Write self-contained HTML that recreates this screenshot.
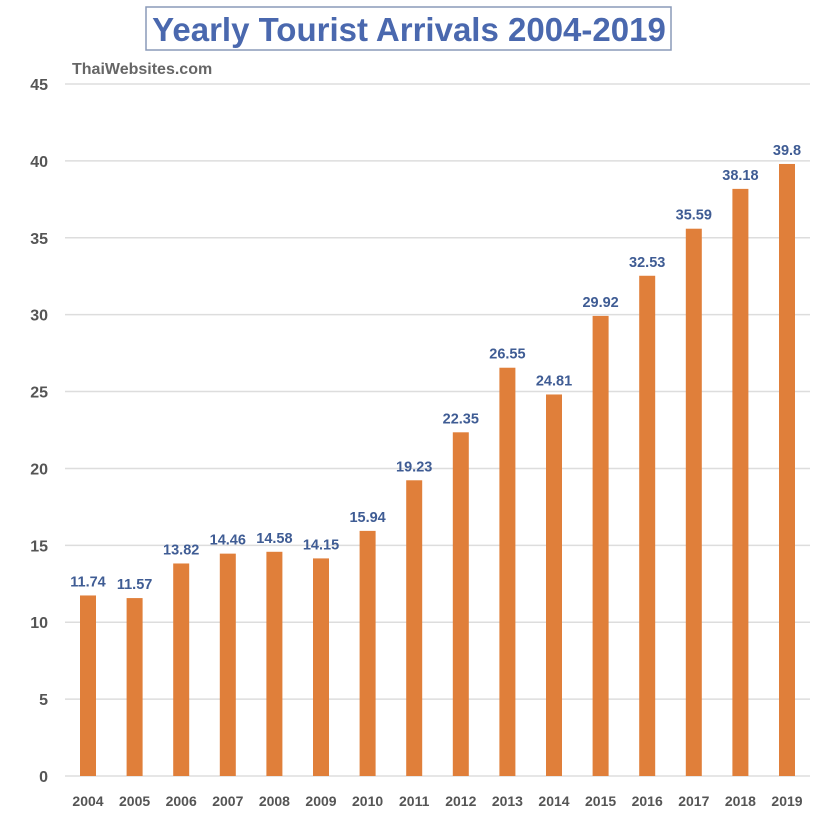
<!DOCTYPE html>
<html><head><meta charset="utf-8"><style>
body{margin:0;background:#fff;width:820px;height:818px;overflow:hidden;font-family:"Liberation Sans",sans-serif}
</style></head><body>
<svg width="820" height="818">
<rect x="146" y="7" width="525" height="43" fill="#fff" stroke="#8a9ab8" stroke-width="1.5"/>
<text x="409" y="41" text-anchor="middle" font-size="33" font-weight="bold" fill="#4a68ae">Yearly Tourist Arrivals 2004-2019</text>
<text x="72" y="74" font-size="16" font-weight="bold" fill="#666">ThaiWebsites.com</text>
<g id="grid"></g><g id="bars"></g>
</svg>
<script>
const years=["2004","2005","2006","2007","2008","2009","2010","2011","2012","2013","2014","2015","2016","2017","2018","2019"];
const values=[11.74,11.57,13.82,14.46,14.58,14.15,15.94,19.23,22.35,26.55,24.81,29.92,32.53,35.59,38.18,39.8];
const labels=["11.74","11.57","13.82","14.46","14.58","14.15","15.94","19.23","22.35","26.55","24.81","29.92","32.53","35.59","38.18","39.8"];
const yTicks=[0,5,10,15,20,25,30,35,40,45];
const NS="http://www.w3.org/2000/svg";
const y=v=>776-v*(692/45);
const x=i=>88+i*46.6;
function mk(t,a,p){const e=document.createElementNS(NS,t);for(const k in a)e.setAttribute(k,a[k]);p.appendChild(e);return e;}
const g=document.getElementById('grid'),b=document.getElementById('bars');
yTicks.forEach(t=>{
 const l=mk('line',{x1:65,x2:810,y1:y(t),y2:y(t),stroke:'#ddd','stroke-width':1.5},g);
 
 
 const tx=mk('text',{x:48,y:y(t)+6,'text-anchor':'end','font-size':16,'font-weight':'bold',fill:'#555'},g);
 tx.textContent=t;
 
 
});
years.forEach((yr,i)=>{
 const r=mk('rect',{x:x(i)-8,y:y(values[i]),width:16,height:776-y(values[i]),fill:'#e07f3a'},b);
 
 
 const v=mk('text',{x:x(i),y:y(values[i])-9,'text-anchor':'middle','font-size':14.5,'font-weight':'bold',fill:'#3f5c94'},b);
 v.textContent=labels[i];
 
 
 const xt=mk('text',{x:x(i),y:806,'text-anchor':'middle','font-size':14,'font-weight':'bold',fill:'#555'},b);
 xt.textContent=yr;
 
 
});
</script>
</body></html>
